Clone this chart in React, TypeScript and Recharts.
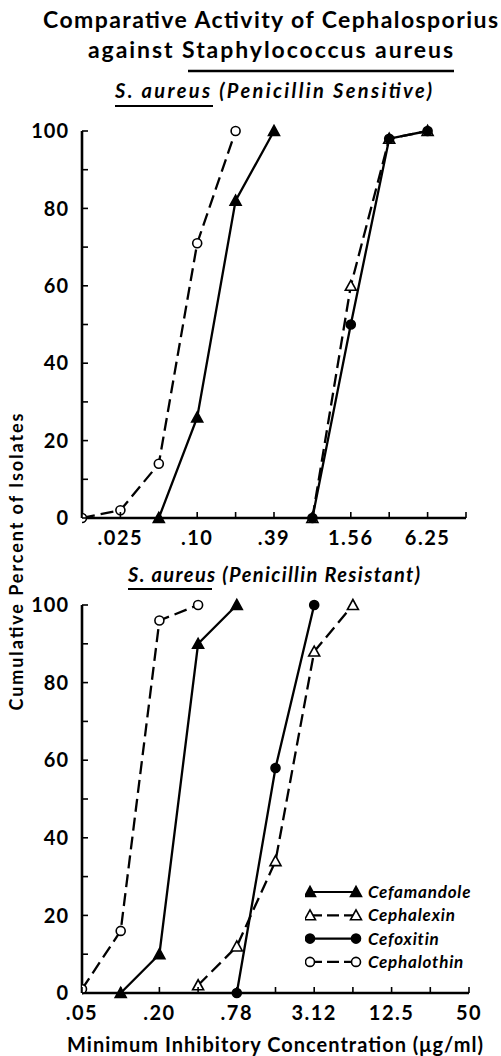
import { LineChart, Line, XAxis, YAxis, Legend } from 'recharts'

// x positions are twofold-dilution steps (0..10), labelled per panel
const steps = [0, 1, 2, 3, 4, 5, 6, 7, 8, 9, 10]
const sensitiveTickLabels = ['', '.025', '', '.10', '', '.39', '', '1.56', '', '6.25', '']
const resistantTickLabels = ['.05', '', '.20', '', '.78', '', '3.12', '', '12.5', '', '50']
const pctTicks = [0, 10, 20, 30, 40, 50, 60, 70, 80, 90, 100]

// S. aureus (Penicillin Sensitive)
const sensCefamandole = [
  { step: 2, pct: 0 },
  { step: 3, pct: 26 },
  { step: 4, pct: 82 },
  { step: 5, pct: 100 },
]
const sensCephalexin = [
  { step: 6, pct: 0 },
  { step: 7, pct: 60 },
  { step: 8, pct: 98 },
  { step: 9, pct: 100 },
]
const sensCefoxitin = [
  { step: 6, pct: 0 },
  { step: 7, pct: 50 },
  { step: 8, pct: 98 },
  { step: 9, pct: 100 },
]
const sensCephalothin = [
  { step: 0, pct: 0 },
  { step: 1, pct: 2 },
  { step: 2, pct: 14 },
  { step: 3, pct: 71 },
  { step: 4, pct: 100 },
]

// S. aureus (Penicillin Resistant)
const resCefamandole = [
  { step: 1, pct: 0 },
  { step: 2, pct: 10 },
  { step: 3, pct: 90 },
  { step: 4, pct: 100 },
]
const resCephalexin = [
  { step: 3, pct: 2 },
  { step: 4, pct: 12 },
  { step: 5, pct: 34 },
  { step: 6, pct: 88 },
  { step: 7, pct: 100 },
]
const resCefoxitin = [
  { step: 4, pct: 0 },
  { step: 5, pct: 58 },
  { step: 6, pct: 100 },
]
const resCephalothin = [
  { step: 0, pct: 1 },
  { step: 1, pct: 16 },
  { step: 2, pct: 96 },
  { step: 3, pct: 100 },
]

const legendNames = ['Cefamandole', 'Cephalexin', 'Cefoxitin', 'Cephalothin']

const FONT = 'Lato, "DejaVu Sans", sans-serif'
const DASH = '13 6'

type Shape = 'triFill' | 'triOpen' | 'dotFill' | 'dotOpen'

function marker(shape: Shape, cx: number, cy: number, key?: string) {
  if (shape === 'triFill' || shape === 'triOpen') {
    const pts = `${cx},${cy - 5.5} ${cx + 5.5},${cy + 4.5} ${cx - 5.5},${cy + 4.5}`
    return (
      <polygon key={key} points={pts} fill={shape === 'triFill' ? '#000' : '#fff'} stroke="#000" strokeWidth={1.6} />
    )
  }
  return <circle key={key} cx={cx} cy={cy} r={4.5} fill={shape === 'dotFill' ? '#000' : '#fff'} stroke="#000" strokeWidth={1.6} />
}

const dotOf = (shape: Shape) => (p: any) => marker(shape, p.cx, p.cy, `${shape}-${p.index}`)

function YTick({ x, y, payload }: any) {
  const v = payload.value as number
  const major = v % 20 === 0
  return (
    <g>
      <line x1={x} x2={x + 6} y1={y} y2={y} stroke="#000" strokeWidth={1.6} />
      {major && (
        <text x={x - 13} y={y} dy="0.36em" textAnchor="end" fontFamily={FONT} fontSize={20} fontWeight="bold" letterSpacing={1} fill="#000">
          {v}
        </text>
      )}
    </g>
  )
}

const xTick = (labels: string[]) => ({ x, y, payload }: any) => (
  <g>
    <line x1={x} x2={x} y1={y} y2={y - 6} stroke="#000" strokeWidth={1.6} />
    <text x={x} y={y + 27} textAnchor="middle" fontFamily={FONT} fontSize={20} fontWeight="bold" letterSpacing={1.5} fill="#000">
      {labels[payload.value]}
    </text>
  </g>
)

function LegendBox() {
  const shapes: Shape[] = ['triFill', 'triOpen', 'dotFill', 'dotOpen']
  return (
    <svg width={190} height={96}>
      {legendNames.map((name, i) => {
        const y = 10 + i * 23.3
        const dashed = i % 2 === 1
        return (
          <g key={name}>
            <line x1={5} x2={51} y1={y} y2={y} stroke="#000" strokeWidth={2.2} strokeDasharray={dashed ? '12 5' : undefined} />
            {marker(shapes[i], 5, y)}
            {marker(shapes[i], 51, y)}
            <text x={63} y={y} dy="0.36em" fontFamily={FONT} fontSize={17} fontStyle="italic" fontWeight="bold" letterSpacing={0.8} fill="#000">
              {name}
            </text>
          </g>
        )
      })}
    </svg>
  )
}

function Panel({ labels, series, showLegend }: { labels: string[]; series: any[][]; showLegend?: boolean }) {
  const [cefamandole, cephalexin, cefoxitin, cephalothin] = series
  return (
    <LineChart
      width={501}
      height={showLegend ? 450 : 440}
      margin={showLegend ? { top: 25, right: 32, bottom: 7, left: 0 } : { top: 21, right: 35, bottom: 2, left: 0 }}
    >
      <XAxis
        type="number"
        dataKey="step"
        domain={[0, 10]}
        ticks={steps}
        allowDataOverflow
        height={30}
        tickSize={0}
        tickMargin={0}
        tick={xTick(labels)}
        axisLine={{ stroke: '#000', strokeWidth: 2.6 }}
        tickLine={false}
      />
      <YAxis
        type="number"
        dataKey="pct"
        domain={[0, 100]}
        ticks={pctTicks}
        width={82}
        tickSize={0}
        tickMargin={0}
        tick={<YTick />}
        axisLine={{ stroke: '#000', strokeWidth: 2.6 }}
        tickLine={false}
      />
      {showLegend && (
        <Legend
          layout="horizontal"
          verticalAlign="middle"
          align="center"
          wrapperStyle={{ left: 305, top: 302, width: 190 }}
          content={() => <LegendBox />}
        />
      )}
      <Line data={cephalothin} dataKey="pct" name="Cephalothin" stroke="#000" strokeWidth={2.3} strokeDasharray={DASH} dot={dotOf('dotOpen')} isAnimationActive={false} />
      <Line data={cephalexin} dataKey="pct" name="Cephalexin" stroke="#000" strokeWidth={2.3} strokeDasharray={DASH} dot={dotOf('triOpen')} isAnimationActive={false} />
      <Line data={cefamandole} dataKey="pct" name="Cefamandole" stroke="#000" strokeWidth={2.3} dot={dotOf('triFill')} isAnimationActive={false} />
      <Line data={cefoxitin} dataKey="pct" name="Cefoxitin" stroke="#000" strokeWidth={2.3} dot={dotOf('dotFill')} isAnimationActive={false} />
    </LineChart>
  )
}

export default function App() {
  return (
    <div style={{ position: 'absolute', left: 0, top: 0, width: 501, height: 1056, background: '#fff' }}>
      <div style={{ position: 'absolute', left: 0, top: 110 }}>
        <Panel labels={sensitiveTickLabels} series={[sensCefamandole, sensCephalexin, sensCefoxitin, sensCephalothin]} />
      </div>
      <div style={{ position: 'absolute', left: 0, top: 580 }}>
        <Panel labels={resistantTickLabels} series={[resCefamandole, resCephalexin, resCefoxitin, resCephalothin]} showLegend />
      </div>
      <svg width={501} height={1056} style={{ position: 'absolute', left: 0, top: 0, pointerEvents: 'none' }}>
        <g fontFamily={FONT} fill="#000">
          <text x={270.5} y={28} textAnchor="middle" fontSize={23} fontWeight="bold" textLength={455}>
            Comparative Activity of Cephalosporius
          </text>
          <text x={270.5} y={58} textAnchor="middle" fontSize={23} fontWeight="bold" textLength={365}>
            against Staphylococcus aureus
          </text>
          <line x1={188} x2={454} y1={71} y2={71} stroke="#000" strokeWidth={2.6} />
          <text x={115} y={98} fontSize={20} fontStyle="italic" fontWeight="bold" textLength={317}>
            S. aureus (Penicillin Sensitive)
          </text>
          <line x1={115} x2={213} y1={106} y2={106} stroke="#000" strokeWidth={2.2} />
          <text x={128} y={582} fontSize={20} fontStyle="italic" fontWeight="bold" textLength={292}>
            S. aureus (Penicillin Resistant)
          </text>
          <line x1={128} x2={212} y1={589} y2={589} stroke="#000" strokeWidth={2.2} />
          <text transform="translate(23,562) rotate(-90)" textAnchor="middle" fontSize={18} fontWeight="bold" textLength={297}>
            Cumulative Percent of Isolates
          </text>
          <text x={275} y={1052} textAnchor="middle" fontSize={20} fontWeight="bold" textLength={416}>
            Minimum Inhibitory Concentration (μg/ml)
          </text>
        </g>
      </svg>
    </div>
  )
}
